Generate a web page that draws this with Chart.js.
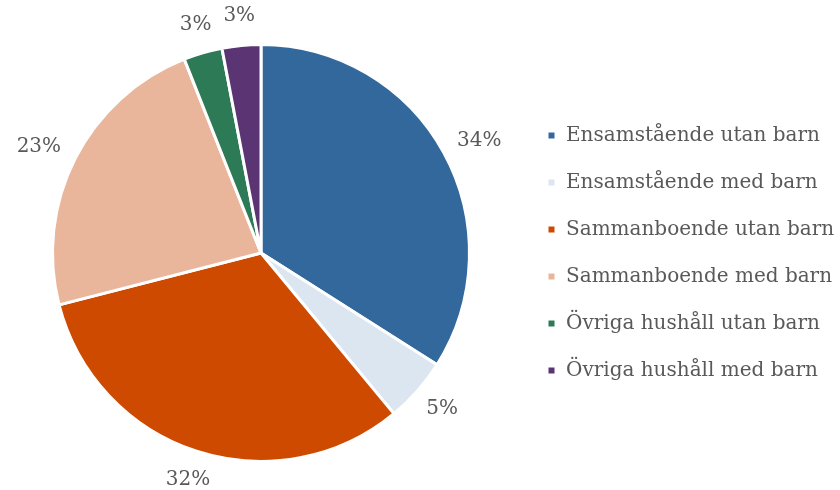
<!DOCTYPE html>
<html>
<head>
<meta charset="utf-8">
<script src="https://cdn.jsdelivr.net/npm/chart.js@4/dist/chart.umd.min.js"></script>
<style>
  html, body { margin: 0; padding: 0; background: #ffffff; }
  #wrap { width: 840px; height: 490px; }
</style>
</head>
<body>
<div id="wrap"><canvas id="hushallChart"></canvas></div>
<script>
const categories = [
    "Ensamstående utan barn",
    "Ensamstående med barn",
    "Sammanboende utan barn",
    "Sammanboende med barn",
    "Övriga hushåll utan barn",
    "Övriga hushåll med barn"
];
const shares = [34, 5, 32, 23, 3, 3];
const sliceColors = ["#33689c", "#dce6f0", "#cd4a00", "#eab69b", "#2d7a57", "#5b3573"];

const textColor = "#595959";
const fontFamily = "'DejaVu Serif', serif";

// percent labels outside each slice
const outsideLabels =
{
    id: "outsideLabels",
    afterDatasetsDraw(chart)
    {
        const ctx = chart.ctx;
        const meta = chart.getDatasetMeta(0);
        ctx.save();
        ctx.font = `20px ${fontFamily}`;
        ctx.fillStyle = textColor;
        ctx.textAlign = "center";
        ctx.textBaseline = "middle";
        meta.data.forEach((arc, i) =>
        {
            const mid = (arc.startAngle + arc.endAngle) / 2;
            const text = shares[i] + "%";
            const w = ctx.measureText(text).width;
            const h = 18;
            const r = arc.outerRadius + 21;
            const x = arc.x + Math.cos(mid) * (r + w / 2 * Math.abs(Math.cos(mid)));
            const y = arc.y + Math.sin(mid) * (r + h / 2 * Math.abs(Math.sin(mid)));
            ctx.fillText(text, x, y);
        });
        ctx.restore();
    }
};

const ctx = document.getElementById("hushallChart");
new Chart(ctx,
{
    type: "pie",
    data:
    {
        labels: categories,
        datasets:
        [
            {
                data: shares,
                backgroundColor: sliceColors,
                borderColor: "#ffffff",
                borderWidth: 3,
            }
        ]
    },
    options:
    {
        responsive: true,
        maintainAspectRatio: false,
        animation: false,
        layout:
        {
            padding: { top: 43, bottom: 27, left: 2, right: 0 }
        },
        plugins:
        {
            legend:
            {
                position: "right",
                maxWidth: 320,
                labels:
                {
                    boxWidth: 9,
                    boxHeight: 9,
                    padding: 27,
                    color: textColor,
                    font: { family: fontFamily, size: 20 }
                }
            },
            tooltip: { enabled: false }
        }
    },
    plugins: [outsideLabels]
});
</script>
</body>
</html>
